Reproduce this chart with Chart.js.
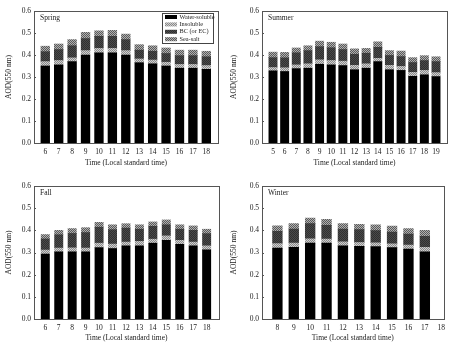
<!DOCTYPE html>
<html>
<head>
<meta charset="utf-8">
<script src="https://cdn.jsdelivr.net/npm/chart.js@4.4.0/dist/chart.umd.min.js"></script>
<style>
  body { margin: 0; background: #fff; }
  #wrap { position: relative; width: 450px; height: 350px; }
  canvas { position: absolute; }
</style>
</head>
<body>
<div id="wrap">
  <canvas id="spring" width="225" height="175" style="left:0;top:0"></canvas>
  <canvas id="summer" width="225" height="175" style="left:225px;top:0"></canvas>
  <canvas id="fall" width="225" height="175" style="left:0;top:175px"></canvas>
  <canvas id="winter" width="225" height="175" style="left:225px;top:175px"></canvas>
</div>
<script>
// components, bottom to top
const componentNames = ['Water-soluble', 'Insoluble', 'BC (or EC)', 'Sea-salt'];
const yTicks = [0, 0.1, 0.2, 0.3, 0.4, 0.5, 0.6];

const springHours = [6, 7, 8, 9, 10, 11, 12, 13, 14, 15, 16, 17, 18];
const springWater = [0.350, 0.355, 0.370, 0.400, 0.410, 0.410, 0.400, 0.365, 0.360, 0.350, 0.340, 0.340, 0.335];
const springInsol = [0.020, 0.020, 0.017, 0.020, 0.020, 0.020, 0.020, 0.017, 0.017, 0.017, 0.017, 0.017, 0.017];
const springBC    = [0.045, 0.050, 0.055, 0.055, 0.055, 0.055, 0.050, 0.040, 0.040, 0.040, 0.040, 0.040, 0.040];
const springSea   = [0.025, 0.025, 0.028, 0.028, 0.025, 0.027, 0.025, 0.025, 0.025, 0.025, 0.025, 0.025, 0.025];

const summerHours = [5, 6, 7, 8, 9, 10, 11, 12, 13, 14, 15, 16, 17, 18, 19];
const summerWater = [0.328, 0.325, 0.338, 0.340, 0.358, 0.355, 0.352, 0.333, 0.340, 0.370, 0.333, 0.330, 0.303, 0.310, 0.302];
const summerInsol = [0.015, 0.017, 0.017, 0.020, 0.020, 0.020, 0.020, 0.020, 0.020, 0.015, 0.020, 0.018, 0.018, 0.020, 0.018];
const summerBC    = [0.045, 0.045, 0.055, 0.060, 0.060, 0.058, 0.053, 0.050, 0.048, 0.050, 0.045, 0.045, 0.045, 0.045, 0.050];
const summerSea   = [0.025, 0.025, 0.022, 0.022, 0.025, 0.025, 0.025, 0.025, 0.022, 0.025, 0.022, 0.025, 0.022, 0.022, 0.022];

const fallHours = [6, 7, 8, 9, 10, 11, 12, 13, 14, 15, 16, 17, 18];
const fallWater = [0.293, 0.303, 0.303, 0.303, 0.322, 0.318, 0.330, 0.330, 0.342, 0.355, 0.337, 0.330, 0.312];
const fallInsol = [0.018, 0.017, 0.018, 0.017, 0.020, 0.020, 0.017, 0.020, 0.018, 0.020, 0.018, 0.017, 0.018];
const fallBC    = [0.050, 0.060, 0.065, 0.070, 0.072, 0.065, 0.063, 0.055, 0.058, 0.050, 0.050, 0.053, 0.055];
const fallSea   = [0.020, 0.020, 0.022, 0.022, 0.022, 0.022, 0.020, 0.020, 0.020, 0.022, 0.020, 0.020, 0.020];

const winterHours = [8, 9, 10, 11, 12, 13, 14, 15, 16, 17];
const winterWater = [0.320, 0.323, 0.342, 0.342, 0.330, 0.328, 0.327, 0.322, 0.315, 0.303];
const winterInsol = [0.020, 0.020, 0.020, 0.018, 0.018, 0.017, 0.017, 0.017, 0.018, 0.020];
const winterBC    = [0.055, 0.063, 0.068, 0.063, 0.058, 0.058, 0.055, 0.053, 0.050, 0.050];
const winterSea   = [0.025, 0.025, 0.025, 0.027, 0.025, 0.024, 0.026, 0.027, 0.025, 0.027];

const serif = "'Liberation Serif', 'DejaVu Serif', serif";

function makePattern(base, dot) {
    const c = document.createElement('canvas');
    c.width = 2; c.height = 2;
    const g = c.getContext('2d');
    g.fillStyle = base; g.fillRect(0, 0, 2, 2);
    g.fillStyle = dot; g.fillRect(0, 0, 1, 1); g.fillRect(1, 1, 1, 1);
    return g.createPattern(c, 'repeat');
}

const fills = [
    '#000000',
    makePattern('#d0d0d0', '#8a8a8a'),
    makePattern('#4a4a4a', '#303030'),
    makePattern('#b0b0b0', '#5a5a5a')
];

// frame, inner ticks, season name and (optional) legend
const decorPlugin = {
    id: 'decor',
    afterDraw(chart, args, opts) {
        const { ctx, chartArea: a } = chart;
        ctx.save();
        ctx.strokeStyle = '#555';
        ctx.lineWidth = 1;
        ctx.strokeRect(Math.round(a.left) + 0.5, Math.round(a.top) + 0.5,
            Math.round(a.right - a.left), Math.round(a.bottom - a.top));
        const ys = chart.scales.y;
        ctx.beginPath();
        ys.ticks.forEach(t => {
            const p = Math.round(ys.getPixelForValue(t.value)) + 0.5;
            ctx.moveTo(a.left, p); ctx.lineTo(a.left + 2, p);
        });
        ctx.stroke();

        ctx.fillStyle = '#222';
        ctx.font = '7.5px ' + serif;
        ctx.textBaseline = 'middle';
        ctx.textAlign = 'left';
        ctx.fillText(opts.season, a.left + 6, a.top + 7.5);

        if (opts.legend) {
            const bw = 51, bh = 30;
            const bx = Math.round(a.right - 5.5 - bw), by = Math.round(a.top + 1.5);
            ctx.fillStyle = '#fff';
            ctx.fillRect(bx, by, bw, bh);
            ctx.strokeStyle = '#444';
            ctx.strokeRect(bx + 0.5, by + 0.5, bw, bh);
            ctx.font = '6.3px ' + serif;
            chart.data.datasets.forEach((ds, i) => {
                const cy = by + 4 + i * 7.4;
                ctx.fillStyle = ds.backgroundColor;
                ctx.fillRect(bx + 3, cy - 2, 12, 4);
                ctx.fillStyle = '#222';
                ctx.fillText(ds.label, bx + 17.5, cy);
            });
        }
        ctx.restore();
    }
};

function makeChart(id, season, hours, series, area, xMin, xMax, barW, legend) {
    const datasets = series.map((vals, i) => ({
        label: componentNames[i],
        data: hours.map((h, k) => ({ x: h, y: vals[k] })),
        backgroundColor: fills[i],
        borderWidth: 0,
        barThickness: barW
    }));
    new Chart(document.getElementById(id), {
        type: 'bar',
        data: { datasets },
        options: {
            responsive: false,
            animation: false,
            layout: { padding: { left: 0, top: area.top, right: 225 - area.right, bottom: 0 } },
            plugins: {
                legend: { display: false },
                tooltip: { enabled: false },
                decor: { season, legend }
            },
            scales: {
                x: {
                    type: 'linear',
                    stacked: true,
                    offset: false,
                    min: xMin,
                    max: xMax,
                    grid: { display: false, drawTicks: false },
                    border: { display: false },
                    ticks: {
                        stepSize: 1,
                        includeBounds: false,
                        autoSkip: false,
                        maxRotation: 0,
                        padding: 5,
                        color: '#222',
                        font: { family: serif, size: 7.5 },
                        callback: v => String(v)
                    },
                    title: {
                        display: true,
                        text: 'Time (Local standard time)',
                        color: '#222',
                        font: { family: serif, size: 7.5 },
                        padding: { top: 0, bottom: 7 }
                    },
                    afterFit: s => { s.height = 175 - area.bottom; }
                },
                y: {
                    stacked: true,
                    min: 0,
                    max: 0.6,
                    afterBuildTicks: s => { s.ticks = yTicks.map(v => ({ value: v })); },
                    grid: { display: false, drawTicks: false },
                    border: { display: false },
                    ticks: {
                        padding: 3,
                        color: '#222',
                        font: { family: serif, size: 7.5 },
                        callback: v => Number(v).toFixed(1)
                    },
                    title: {
                        display: true,
                        text: 'AOD(550 nm)',
                        color: '#222',
                        font: { family: serif, size: 7.5 },
                        padding: { top: 4.5, bottom: 0 }
                    },
                    afterFit: s => { s.width = area.left; }
                }
            }
        },
        plugins: [decorPlugin]
    });
}

makeChart('spring', 'Spring', springHours, [springWater, springInsol, springBC, springSea],
    { left: 34, right: 218, top: 11, bottom: 143 }, 5.16, 18.87, 8.7, true);
makeChart('summer', 'Summer', summerHours, [summerWater, summerInsol, summerBC, summerSea],
    { left: 37, right: 222, top: 11, bottom: 143 }, 4.055, 19.945, 8.3, false);
makeChart('fall', 'Fall', fallHours, [fallWater, fallInsol, fallBC, fallSea],
    { left: 34, right: 219, top: 11, bottom: 144 }, 5.16, 18.92, 8.3, false);
makeChart('winter', 'Winter', winterHours, [winterWater, winterInsol, winterBC, winterSea],
    { left: 37, right: 222, top: 11, bottom: 144 }, 7.06, 18.14, 9.7, false);
</script>
</body>
</html>
